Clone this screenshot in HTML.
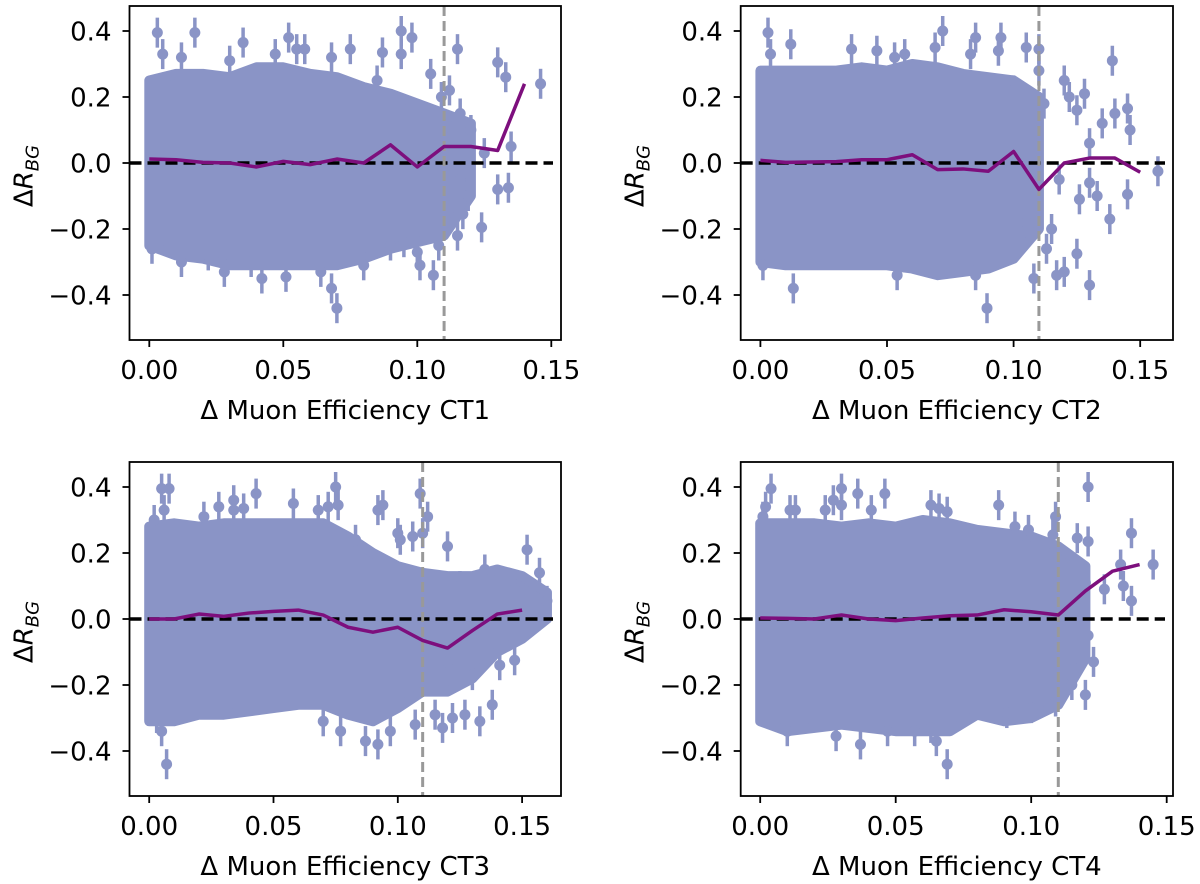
<!DOCTYPE html>
<html><head><meta charset="utf-8"><style>
html,body{margin:0;padding:0;background:#fff}
svg{display:block}
text{font-family:"DejaVu Sans","Liberation Sans",sans-serif;fill:#000}
</style></head><body>
<svg id="fig" width="1200" height="884" viewBox="0 0 1200 884" xmlns="http://www.w3.org/2000/svg"></svg>
<script>
// ---------- data ----------
const xTickLabels = ["0.00","0.05","0.10","0.15"];
const xTickValues = [0, 0.05, 0.10, 0.15];
const yTickLabels = ["0.4","0.2","0.0","\u22120.2","\u22120.4"];
const yTickValues = [0.4, 0.2, 0.0, -0.2, -0.4];
const cutValue = 0.11;

const p1BandX = [0,0.01,0.02,0.03,0.04,0.05,0.06,0.07,0.08,0.09,0.10,0.11,0.12];
const p1Upper = [0.25,0.27,0.27,0.26,0.29,0.29,0.27,0.26,0.23,0.21,0.18,0.15,0.12];
const p1Lower = [-0.25,-0.28,-0.29,-0.31,-0.31,-0.31,-0.31,-0.31,-0.29,-0.26,-0.24,-0.22,-0.10];
const p1PtsX = [0.003,0.017,0.035,0.052,0.055,0.058,0.075,0.087,0.094,0.098,0.094,0.005,0.012,0.03,0.047,0.068,0.112,0.115,0.116,0.13,0.133,0.146,0.135,0.13,0.134,0.119,0.117,0.115,0.124,0.116,0.105,0.109,0.11,0.12,0.125,0.101,0.106,0.07,0.068,0.051,0.042,0.028,0.001,0.012,0.064,0.09,0.095,0.022,0.038,0.08,0.108,0.1,0.085];
const p1PtsY = [0.395,0.395,0.365,0.38,0.345,0.345,0.345,0.335,0.40,0.38,0.33,0.33,0.32,0.31,0.33,0.32,0.22,0.345,0.15,0.305,0.26,0.24,0.05,-0.08,-0.075,-0.10,-0.155,-0.22,-0.195,-0.05,0.27,0.2,0.08,0.1,0.03,-0.31,-0.34,-0.44,-0.38,-0.345,-0.35,-0.33,-0.26,-0.30,-0.33,-0.25,-0.24,-0.28,-0.3,-0.31,-0.25,-0.27,0.25];
const p1MeanX = [0,0.01,0.02,0.03,0.04,0.05,0.06,0.07,0.08,0.09,0.10,0.11,0.12,0.13,0.14];
const p1MeanY = [0.012,0.01,0.002,0,-0.012,0.005,-0.005,0.012,0,0.055,-0.012,0.05,0.05,0.038,0.24];

const p2BandX = [0,0.01,0.02,0.03,0.04,0.05,0.06,0.07,0.08,0.09,0.10,0.11];
const p2Upper = [0.28,0.28,0.28,0.28,0.29,0.28,0.30,0.29,0.27,0.26,0.25,0.20];
const p2Lower = [-0.30,-0.31,-0.31,-0.31,-0.31,-0.31,-0.32,-0.34,-0.33,-0.32,-0.29,-0.20];
const p2PtsX = [0.003,0.012,0.004,0.036,0.046,0.053,0.057,0.072,0.069,0.085,0.095,0.094,0.105,0.11,0.11,0.083,0.12,0.128,0.139,0.145,0.146,0.14,0.135,0.13,0.125,0.157,0.145,0.138,0.133,0.13,0.126,0.125,0.13,0.12,0.117,0.113,0.108,0.115,0.0895,0.013,0.001,0.054,0.085,0.118,0.105,0.112,0.122,0.1];
const p2PtsY = [0.395,0.36,0.33,0.345,0.34,0.32,0.33,0.40,0.35,0.38,0.38,0.34,0.35,0.345,0.28,0.33,0.25,0.21,0.31,0.165,0.10,0.15,0.12,0.06,0.16,-0.025,-0.095,-0.17,-0.1,-0.06,-0.11,-0.275,-0.37,-0.33,-0.34,-0.26,-0.35,-0.2,-0.44,-0.38,-0.31,-0.34,-0.34,-0.05,-0.18,0.18,0.2,0.22];
const p2MeanX = [0,0.01,0.02,0.03,0.04,0.05,0.06,0.07,0.08,0.09,0.10,0.11,0.12,0.13,0.14,0.15];
const p2MeanY = [0.008,0.002,0.003,0.004,0.01,0.01,0.025,-0.02,-0.018,-0.025,0.035,-0.08,0,0.015,0.015,-0.028];

const p3BandX = [0,0.01,0.02,0.03,0.04,0.05,0.06,0.07,0.08,0.09,0.10,0.11,0.12,0.13,0.14,0.15,0.16];
const p3Upper = [0.28,0.29,0.28,0.29,0.29,0.29,0.29,0.29,0.25,0.20,0.16,0.14,0.13,0.13,0.15,0.13,0.08];
const p3Lower = [-0.31,-0.31,-0.29,-0.29,-0.28,-0.27,-0.26,-0.26,-0.29,-0.31,-0.27,-0.22,-0.22,-0.18,-0.10,-0.06,0.0];
const p3PtsX = [0.005,0.008,0.002,0.006,0.022,0.028,0.034,0.034,0.038,0.043,0.058,0.068,0.072,0.075,0.076,0.092,0.094,0.109,0.112,0.11,0.12,0.101,0.106,0.152,0.157,0.16,0.147,0.147,0.141,0.138,0.133,0.127,0.122,0.118,0.115,0.107,0.092,0.087,0.077,0.07,0.097,0.007,0.005,0.003,0.12,0.13,0.125,0.135,0.083,0.1];
const p3PtsY = [0.395,0.395,0.30,0.33,0.31,0.34,0.36,0.33,0.335,0.38,0.35,0.33,0.34,0.40,0.345,0.33,0.345,0.38,0.31,0.26,0.22,0.24,0.25,0.21,0.14,0.055,0.09,-0.125,-0.14,-0.26,-0.31,-0.29,-0.30,-0.33,-0.29,-0.32,-0.38,-0.37,-0.34,-0.31,-0.34,-0.44,-0.34,-0.30,-0.13,-0.17,0.1,0.15,0.24,0.26];
const p3MeanX = [0,0.01,0.02,0.03,0.04,0.05,0.06,0.07,0.08,0.09,0.10,0.11,0.12,0.13,0.14,0.15];
const p3MeanY = [0,0,0.015,0.008,0.018,0.023,0.027,0.012,-0.025,-0.04,-0.025,-0.065,-0.088,-0.035,0.015,0.027];

const p4BandX = [0,0.01,0.02,0.03,0.04,0.05,0.06,0.07,0.08,0.09,0.10,0.11,0.12];
const p4Upper = [0.29,0.29,0.29,0.28,0.29,0.28,0.30,0.29,0.27,0.26,0.25,0.22,0.16];
const p4Lower = [-0.31,-0.34,-0.33,-0.32,-0.33,-0.34,-0.34,-0.34,-0.29,-0.31,-0.30,-0.26,-0.12];
const p4PtsX = [0.004,0.001,0.002,0.011,0.013,0.024,0.027,0.03,0.03,0.036,0.041,0.046,0.063,0.066,0.069,0.088,0.094,0.099,0.109,0.108,0.121,0.117,0.121,0.137,0.145,0.133,0.134,0.137,0.127,0.12,0.121,0.123,0.12,0.115,0.109,0.1,0.091,0.069,0.065,0.057,0.047,0.037,0.028,0.01,0.063,0.112,0.116];
const p4PtsY = [0.395,0.31,0.34,0.33,0.33,0.33,0.36,0.395,0.345,0.38,0.33,0.38,0.345,0.335,0.325,0.345,0.28,0.27,0.31,0.255,0.40,0.245,0.235,0.26,0.165,0.165,0.10,0.055,0.09,0.11,-0.05,-0.13,-0.23,-0.20,-0.25,-0.27,-0.285,-0.44,-0.37,-0.34,-0.34,-0.38,-0.355,-0.34,-0.33,0.16,-0.15];
const p4MeanX = [0,0.01,0.02,0.03,0.04,0.05,0.06,0.07,0.08,0.09,0.10,0.11,0.12,0.13,0.14];
const p4MeanY = [0.003,0.002,0,0.012,0,-0.005,0.003,0.01,0.012,0.028,0.022,0.012,0.085,0.145,0.165];

// ---------- layout ----------
const NS = "http://www.w3.org/2000/svg";
const svg = document.getElementById("fig");
const panels = [
  {id:"ct1", label:"CT1", left:129.5, right:561, top:6, bottom:340, x0:149.3, pxPer:2680, bx:p1BandX, up:p1Upper, lo:p1Lower, px:p1PtsX, py:p1PtsY, mx:p1MeanX, my:p1MeanY},
  {id:"ct2", label:"CT2", left:740.7, right:1173, top:6, bottom:340, x0:760.4, pxPer:2532, bx:p2BandX, up:p2Upper, lo:p2Lower, px:p2PtsX, py:p2PtsY, mx:p2MeanX, my:p2MeanY},
  {id:"ct3", label:"CT3", left:129.5, right:561, top:462, bottom:796, x0:149.2, pxPer:2486, bx:p3BandX, up:p3Upper, lo:p3Lower, px:p3PtsX, py:p3PtsY, mx:p3MeanX, my:p3MeanY},
  {id:"ct4", label:"CT4", left:740.7, right:1173, top:462, bottom:796, x0:760.2, pxPer:2710, bx:p4BandX, up:p4Upper, lo:p4Lower, px:p4PtsX, py:p4PtsY, mx:p4MeanX, my:p4MeanY}
];
const COL = "#8a94c6";
function mk(tag, attrs, parent){const e=document.createElementNS(NS,tag);for(const k in attrs)e.setAttribute(k,attrs[k]);(parent||svg).appendChild(e);return e;}

panels.forEach(p=>{
  const sx = v => p.x0 + v*p.pxPer;
  const y0 = p.top + 157;
  const sy = v => y0 - v*330;
  const g = mk("g",{});
  
  
  const cid = "clip-"+p.id;
  const cp = mk("clipPath",{id:cid},g);
  mk("rect",{x:p.left,y:p.top,width:p.right-p.left,height:p.bottom-p.top},cp);
  const plot = mk("g",{"clip-path":"url(#"+cid+")"},g);
  // dense band
  let d = "";
  p.bx.forEach((x,i)=>{d += (i?"L":"M")+sx(x)+","+sy(p.up[i]);});
  for(let i=p.bx.length-1;i>=0;i--) d += "L"+sx(p.bx[i])+","+sy(p.lo[i]);
  d += "Z";
  const band = mk("path",{d:d,fill:COL,stroke:COL,"stroke-width":10,"stroke-linejoin":"round"},plot);
  
  
  // outlier points with error bars
  p.px.forEach((x,i)=>{
    const cx = sx(x), cy = sy(p.py[i]);
    const eb = mk("line",{x1:cx,x2:cx,y1:cy-15,y2:cy+15,stroke:COL,"stroke-width":3.5},plot);
    
    
    const c = mk("circle",{cx:cx,cy:cy,r:5.5,fill:COL},plot);
    
    
  });
  // zero line
  const zl = mk("line",{x1:p.left,x2:p.right-8,y1:sy(0),y2:sy(0),stroke:"#000","stroke-width":3.5,"stroke-dasharray":"12,6"},plot);
  
  
  // cut line
  const cl = mk("line",{x1:sx(cutValue),x2:sx(cutValue),y1:p.top,y2:p.bottom,stroke:"#999","stroke-width":3,"stroke-dasharray":"10,5"},plot);
  
  
  // mean line
  const ml = mk("polyline",{points:p.mx.map((x,i)=>sx(x)+","+sy(p.my[i])).join(" "),fill:"none",stroke:"#7d0f7d","stroke-width":3.5,"stroke-linejoin":"round"},plot);
  
  
  // frame
  const fr = mk("rect",{x:p.left,y:p.top,width:p.right-p.left,height:p.bottom-p.top,fill:"none",stroke:"#000","stroke-width":1.8},g);
  
  
  // x ticks
  xTickValues.forEach((v,i)=>{
    const x = sx(v);
    const t = mk("line",{x1:x,x2:x,y1:p.bottom,y2:p.bottom+7,stroke:"#000","stroke-width":1.8},g);
    
    
    const tl = mk("text",{x:x,y:p.bottom+39,"font-size":26,"text-anchor":"middle"},g);
    tl.textContent = xTickLabels[i];
    
    
  });
  // y ticks
  yTickValues.forEach((v,i)=>{
    const y = sy(v);
    const t = mk("line",{x1:p.left-7,x2:p.left,y1:y,y2:y,stroke:"#000","stroke-width":1.8},g);
    
    
    const tl = mk("text",{x:p.left-18,y:y+9.5,"font-size":26,"text-anchor":"end"},g);
    tl.textContent = yTickLabels[i];
    
    
  });
  // x label
  const xl = mk("text",{x:(p.left+p.right)/2,y:p.bottom+79,"font-size":26,"text-anchor":"middle"},g);
  xl.textContent = "\u0394 Muon Efficiency "+p.label;
  
  
  // y label
  const yx = p.left-97, yy = p.top+170;
  const yl = mk("text",{x:yx,y:yy,"font-size":26,"text-anchor":"middle",transform:"rotate(-90 "+yx+" "+yy+")"},g);
  
  
  const s1 = mk("tspan",{},yl); s1.textContent="\u0394";
  const s2 = mk("tspan",{"font-style":"italic"},yl); s2.textContent="R";
  const s3 = mk("tspan",{"font-style":"italic","font-size":18,dy:6}, yl); s3.textContent="BG";
});
</script>
</body></html>
